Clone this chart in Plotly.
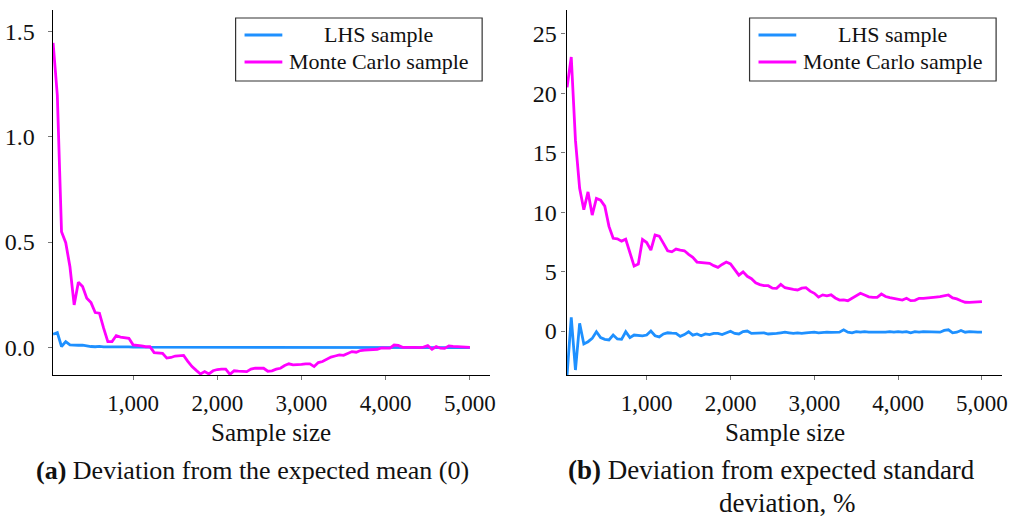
import plotly.graph_objects as go

# ---------------- data ----------------
sample_size = list(range(50, 5001, 50))

mean_mc = [1.444, 1.196, 0.549, 0.497, 0.383, 0.202, 0.310, 0.289, 0.234, 0.213,
           0.166, 0.163, 0.092, 0.028, 0.028, 0.057, 0.050, 0.047, 0.044, 0.013,
           0.012, 0.008, 0.004, 0.004, -0.024, -0.025, -0.027, -0.050, -0.047, -0.040,
           -0.038, -0.037, -0.065, -0.090, -0.108, -0.125, -0.114, -0.125, -0.110, -0.104,
           -0.102, -0.102, -0.127, -0.110, -0.112, -0.113, -0.114, -0.102, -0.098, -0.098,
           -0.098, -0.112, -0.110, -0.102, -0.098, -0.085, -0.077, -0.082, -0.082, -0.080,
           -0.077, -0.077, -0.090, -0.071, -0.066, -0.055, -0.045, -0.040, -0.035, -0.037,
           -0.028, -0.019, -0.022, -0.014, -0.012, -0.011, -0.010, -0.008, -0.002, -0.001,
           -0.003, 0.012, 0.010, 0.001, 0.002, 0.002, 0.001, 0.000, 0.002, 0.009,
           -0.008, 0.005, -0.003, -0.004, 0.008, 0.006, 0.005, 0.005, 0.003, 0.001]

mean_lhs = [0.063, 0.071, 0.005, 0.028, 0.013, 0.011, 0.011, 0.012, 0.008, 0.005,
            0.004, 0.006, 0.003, 0.003, 0.006, 0.003, 0.004, 0.003, 0.003, 0.002,
            0.002, 0.001, 0.002, 0.002, 0.001, 0.002, 0.001, 0.001, 0.002, 0.001,
            0.001, 0.002, 0.001, 0.001, 0.001, 0.000, 0.001, 0.001, 0.000, 0.001,
            0.000, 0.001, 0.000, 0.000, 0.001, 0.000, 0.000, 0.001, 0.000, 0.000,
            0.000, 0.000, 0.000, 0.001, 0.000, 0.000, 0.000, 0.000, 0.000, 0.000,
            0.000, 0.000, 0.000, 0.000, 0.000, 0.000, 0.000, 0.000, 0.000, 0.000,
            0.000, 0.000, 0.000, 0.000, 0.000, 0.000, 0.000, 0.000, 0.000, 0.000,
            0.000, 0.000, 0.000, 0.000, 0.000, 0.000, 0.000, 0.000, 0.000, 0.000,
            0.000, 0.000, 0.000, 0.000, 0.000, 0.000, 0.000, 0.000, 0.000, 0.000]

std_mc = [20.5, 23.05, 16.05, 12.0, 10.2, 11.7, 9.75, 11.15, 11.0, 10.5,
          8.8, 7.8, 7.75, 7.56, 7.72, 6.66, 5.46, 5.63, 7.7, 7.44,
          6.8, 8.07, 7.98, 7.37, 6.75, 6.66, 6.89, 6.8, 6.75, 6.45,
          6.2, 5.8, 5.77, 5.72, 5.69, 5.5, 5.35, 5.6, 5.8, 5.65,
          5.2, 4.7, 4.98, 4.6, 4.4, 4.05, 3.9, 3.81, 3.81, 3.6,
          3.59, 3.92, 3.64, 3.55, 3.5, 3.45, 3.6, 3.64, 3.35, 3.17,
          2.85, 3.04, 2.96, 3.04, 2.78, 2.6, 2.62, 2.55, 2.75, 2.95,
          3.17, 3.03, 2.88, 2.83, 2.83, 3.11, 2.9, 2.8, 2.72, 2.65,
          2.6, 2.75, 2.55, 2.58, 2.75, 2.74, 2.76, 2.78, 2.85, 2.89,
          2.95, 3.03, 2.78, 2.7, 2.55, 2.42, 2.41, 2.45, 2.48, 2.47]

std_lhs = [-3.7, 1.15, -3.28, 0.65, -1.09, -0.9, -0.62, -0.06, -0.56, -0.7,
           -0.75, -0.34, -0.67, -0.7, -0.06, -0.56, -0.34, -0.4, -0.4, -0.34,
           0.0, -0.4, -0.5, -0.25, -0.15, -0.18, -0.2, -0.45, -0.3, -0.06,
           -0.35, -0.25, -0.4, -0.25, -0.3, -0.2, -0.2, -0.3, -0.15, -0.02,
           -0.2, -0.25, -0.05, 0.0, -0.2, -0.2, -0.15, -0.15, -0.25, -0.25,
           -0.2, -0.15, -0.1, -0.15, -0.2, -0.15, -0.2, -0.15, -0.1, -0.1,
           -0.15, -0.1, -0.1, -0.12, -0.1, -0.1, 0.1, -0.1, -0.15, -0.05,
           -0.1, -0.05, -0.1, -0.1, -0.15, -0.1, -0.1, -0.05, -0.1, -0.05,
           -0.1, -0.05, -0.15, -0.05, -0.1, -0.05, -0.05, -0.1, -0.05, -0.1,
           0.05, 0.1, -0.15, -0.1, 0.05, -0.1, -0.05, -0.1, -0.1, -0.1]

x_ticks = [1000, 2000, 3000, 4000, 5000]
x_tick_text = ["1,000", "2,000", "3,000", "4,000", "5,000"]
y1_ticks = [0.0, 0.5, 1.0, 1.5]
y1_tick_text = ["0.0", "0.5", "1.0", "1.5"]
y2_ticks = [0, 5, 10, 15, 20, 25]
y2_tick_text = ["0", "5", "10", "15", "20", "25"]

series_names = ["LHS sample", "Monte Carlo sample"]
series_colors = ["#1E90FF", "#FF00FF"]

# ---------------- layout helpers ----------------
W, H = 1019, 521
FONT = "Liberation Serif"


def px(x):
    return x / W


def py(y):
    return 1 - y / H


x_range = [45, 5240]
y1_range = [-0.13, 1.6]
y2_range = [-3.7, 27]

fig = go.Figure()

panels = [
    dict(xa="x", ya="y", data=[mean_lhs, mean_mc]),
    dict(xa="x2", ya="y2", data=[std_lhs, std_mc]),
]
for p in panels:
    for vals, name, col in zip(p["data"], series_names, series_colors):
        fig.add_trace(go.Scatter(x=sample_size, y=vals, mode="lines", name=name,
                                 line=dict(color=col, width=2.8),
                                 xaxis=p["xa"], yaxis=p["ya"], showlegend=False))

dom1 = [px(53), px(493)]
dom2 = [px(570), px(1008)]
ydom = [py(375), py(10)]

tick_font = dict(family=FONT, size=23, color="#111")
common_x = dict(range=x_range, tickvals=x_ticks, ticktext=x_tick_text, showgrid=False,
                zeroline=False, showline=True, linecolor="black", linewidth=1.3,
                ticks="outside", ticklen=4, tickwidth=1, tickcolor="#777",
                tickfont=tick_font, ticklabelstandoff=3)
common_y = dict(showgrid=False, zeroline=False, showline=True, linecolor="black",
                linewidth=1.3, ticks="outside", ticklen=4, tickwidth=1, tickcolor="#777",
                tickfont=dict(family=FONT, size=24, color="#111"))

overlay_x = dict(range=x_range, tickvals=x_ticks, showticklabels=False, showgrid=False,
                 zeroline=False, showline=False, ticks="inside", ticklen=4, tickwidth=1,
                 tickcolor="#777")
overlay_y = dict(showticklabels=False, showgrid=False, zeroline=False, showline=False,
                 ticks="inside", ticklen=4, tickwidth=1, tickcolor="#777")

fig.update_layout(
    width=W, height=H,
    margin=dict(l=0, r=0, t=0, b=0),
    paper_bgcolor="white", plot_bgcolor="white",
    showlegend=False,
    xaxis=dict(domain=dom1, anchor="y", **common_x),
    yaxis=dict(domain=ydom, anchor="x", range=y1_range, tickvals=y1_ticks,
               ticktext=y1_tick_text, ticklabelstandoff=8, **common_y),
    xaxis2=dict(domain=dom2, anchor="y2", **common_x),
    yaxis2=dict(domain=ydom, anchor="x2", range=y2_range, tickvals=y2_ticks,
                ticktext=y2_tick_text, ticklabelstandoff=0, **common_y),
    xaxis3=dict(overlaying="x", anchor="y", domain=dom1, **overlay_x),
    yaxis3=dict(overlaying="y", anchor="x", domain=ydom, range=y1_range,
                tickvals=y1_ticks, **overlay_y),
    xaxis4=dict(overlaying="x2", anchor="y2", domain=dom2, **overlay_x),
    yaxis4=dict(overlaying="y2", anchor="x2", domain=ydom, range=y2_range,
                tickvals=y2_ticks, **overlay_y),
)

# legends drawn as boxes with sample lines and centred text
shapes = []
annotations = []
for off in (0, 517):
    shapes.append(dict(type="rect", xref="paper", yref="paper",
                       x0=px(237 + off), x1=px(485 + off), y0=py(81), y1=py(18),
                       line=dict(color="#333", width=1.2), fillcolor="white", layer="above"))
    for yy, col, name in zip((35, 62), series_colors, series_names):
        shapes.append(dict(type="line", xref="paper", yref="paper",
                           x0=px(246 + off), x1=px(284 + off), y0=py(yy), y1=py(yy),
                           line=dict(color=col, width=2.8), layer="above"))
        annotations.append(dict(text=name, xref="paper", yref="paper",
                                x=px(381 + off), y=py(yy), xanchor="center", yanchor="middle",
                                showarrow=False, font=dict(family=FONT, size=22, color="#111")))

label_font = dict(family=FONT, size=25, color="#111")
for cx in (273, 790):
    annotations.append(dict(text="Sample size", xref="paper", yref="paper", x=px(cx), y=py(432),
                            xanchor="center", yanchor="middle", showarrow=False, font=label_font))

cap_font = dict(family=FONT, size=26, color="#111")
annotations.append(dict(text="<b>(a)</b> Deviation from the expected mean (0)", xref="paper",
                        yref="paper", x=px(254), y=py(470), xanchor="center", yanchor="middle",
                        showarrow=False, font=cap_font))
annotations.append(dict(text="<b>(b)</b> Deviation from expected standard", xref="paper",
                        yref="paper", x=px(776), y=py(470), xanchor="center", yanchor="middle",
                        showarrow=False, font=dict(family=FONT, size=27, color="#111")))
annotations.append(dict(text="deviation, %", xref="paper", yref="paper", x=px(792), y=py(503),
                        xanchor="center", yanchor="middle", showarrow=False,
                        font=dict(family=FONT, size=27, color="#111")))

fig.update_layout(shapes=shapes, annotations=annotations)

fig.write_html("out.html")
